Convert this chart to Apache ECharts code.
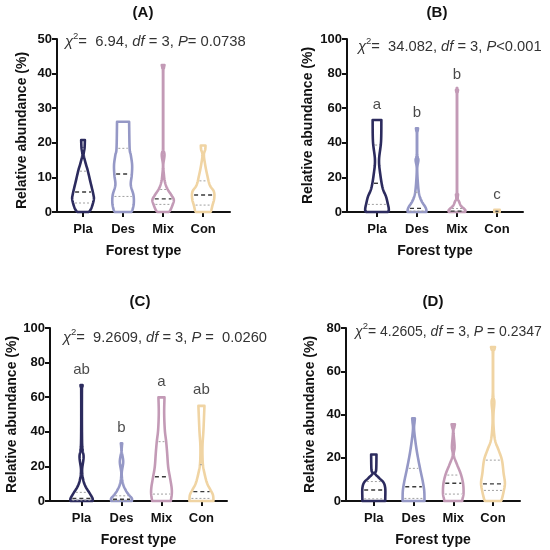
<!DOCTYPE html>
<html><head><meta charset="utf-8">
<script src="https://cdn.jsdelivr.net/npm/echarts@6/dist/echarts.min.js"></script>
<style>html,body{margin:0;padding:0;background:#fff}#c{width:550px;height:550px}</style>
</head><body><div id="c"></div>
<script>
// ---------------- DATA ----------------
const categories = ['Pla', 'Des', 'Mix', 'Con'];
const panelTitles = ['(A)', '(B)', '(C)', '(D)'];
const yMaxes = [50, 100, 100, 80];
const yIntervals = [10, 20, 20, 20];

// Violin outlines: levels (relative abundance, %) and kernel density (relative width) at each level
const levelsA = [
  [0, 1, 3.5, 5, 8.7, 12, 14, 16.5, 18.5, 20.8],
  [0, 0.6, 2.5, 4.9, 7.8, 10.7, 13.6, 16.5, 18.4, 26.1],
  [0, 0.6, 2, 3.5, 4.9, 6.8, 8.8, 11, 13.6, 16.5, 18.4, 22, 40, 41.5, 42.5],
  [0, 0.6, 2, 3.9, 5.9, 7.8, 10.7, 13.6, 16.5, 18, 19.2]
];
const densityA = [
  [42, 57, 72, 70, 52, 36, 24, 12, 17, 19],
  [57, 64, 72, 70, 54, 60, 62, 54, 47, 44],
  [42, 52, 64, 72, 57, 32, 18, 12, 8, 16, 8, 7, 7, 12, 16],
  [52, 57, 64, 74, 72, 47, 32, 20, 12, 20, 22]
];
const levelsB = [
  [0, 0.5, 2.3, 5, 8.9, 13.7, 21.4, 30, 40.6, 53.2],
  [0, 1.2, 3, 6, 9.8, 15.6, 25, 30, 33, 45, 47, 48.4],
  [0, 1.2, 3.5, 6, 8, 10.2, 12.5, 67, 69, 70.5],
  [0, 1.2]
];
const densityB = [
  [72, 78, 78, 72, 62, 42, 28, 20, 32, 34],
  [64, 64, 57, 37, 22, 14, 9, 16, 9, 8, 12, 14],
  [57, 57, 32, 20, 11, 14, 8, 8, 11, 14],
  [24, 24]
];
const levelsC = [
  [0, 1.5, 4.4, 8.3, 12.1, 17.9, 25.6, 33.3, 64, 66, 67],
  [0, 1.5, 3.5, 6.4, 10.2, 16, 22.7, 28.5, 31.5, 33.3],
  [0, 4.4, 8.3, 14, 19.8, 27.6, 34.3, 41, 50.7, 59.9],
  [0, 3.5, 6.4, 10.2, 16, 21.8, 31.4, 41, 55]
];
const densityC = [
  [74, 74, 57, 32, 18, 11, 20, 11, 10, 13, 14],
  [70, 70, 52, 32, 16, 9, 18, 9, 10, 12],
  [64, 70, 68, 58, 48, 42, 36, 28, 24, 26],
  [80, 77, 62, 42, 26, 16, 14, 20, 26]
];
const levelsD = [
  [0, 1.2, 5.8, 8.5, 10.5, 12.8, 14.3, 21.5],
  [0, 1.2, 5.1, 9.7, 15.1, 22, 28.2, 33.5, 36.5, 38.2],
  [0, 1, 3.6, 8.2, 12.8, 16.6, 21.2, 25.1, 32, 34, 35.5],
  [0, 1, 4.3, 8.2, 12.8, 18.9, 23.5, 28.2, 35, 40.5, 45.8, 50, 68, 70, 71.2]
];
const densityD = [
  [77, 77, 77, 67, 42, 14, 22, 24],
  [74, 74, 72, 62, 47, 30, 18, 11, 14, 16],
  [62, 64, 70, 67, 52, 32, 11, 16, 9, 14, 18],
  [57, 62, 72, 80, 72, 62, 42, 20, 11, 11, 16, 9, 9, 16, 20]
];

// Quartiles (Q1, median, Q3) per forest type
const medianA = [5.8, 11.0, 3.8, 4.9];
const q1A = [2.6, 4.5, 2.2, 2.0];
const q3A = [11.8, 18.4, 6.5, 9];
const medianB = [16.6, 2.1, 0.5, 0.3];
const q1B = [4.4, 0.5, 0.2, 0.1];
const q3B = [38.7, 11.4, 2, 0.6];
const medianC = [1.5, 1, 14, 5.4];
const q1C = [0.5, 0.3, 4, 1.5];
const q3C = [5, 3, 34.3, 21];
const medianD = [5.1, 6.6, 8.2, 7.9];
const q1D = [1, 1.2, 3.2, 4.9];
const q3D = [9, 15.1, 12, 18.9];

// Post-hoc letters
const lettersB = ['a', 'b', 'b', 'c'];
const lettersC = ['ab', 'b', 'a', 'ab'];

// Statistics
const statsText = [
  '{i|χ}{s|2}{n|=  6.94, }{i|df}{n| = 3, }{i|P}{n|= 0.0738}',
  '{i|χ}{s|2}{n|=  34.082, }{i|df}{n| = 3, }{i|P}{n|<0.001}',
  '{i|χ}{s|2}{n|=  9.2609, }{i|df}{n| = 3, }{i|P}{n| =  0.0260}',
  '{i|χ}{s|2}{n|= 4.2605, }{i|df}{n| = 3, }{i|P}{n| = 0.2347}'
];

// ---------------- STYLE / LAYOUT ----------------
const colors = ['#2c2b5e', '#9598c6', '#c39ab6', '#f0d4a3'];
const FONT = 'Liberation Sans, Arial, Helvetica, sans-serif';
const grids = [
  { left: 57, top: 39, width: 173, height: 173 },
  { left: 347, top: 39, width: 176, height: 173 },
  { left: 50, top: 328, width: 177, height: 173 },
  { left: 346, top: 328, width: 174, height: 173 }
];
const xRanges = [[-0.65, 3.67], [-0.75, 3.65], [-0.79, 3.64], [-0.7, 3.68]];
const yNameGaps = [28, 32, 28, 29];
const yNamePad = [[0, 10, 0, 0], [0, 0, 0, 0], [0, 0, 0, 0], [0, 0, 0, 0]];
const titlePos = [[143, 13], [437, 13], [140, 302], [433, 302]];
const statsPos = [[65, 40], [358, 45], [63, 336], [355, 330]];
const statsFont = [14.8, 14.7, 14.7, 14];
const LW = 2.6;

const panels = [
  { levels: levelsA, density: densityA, med: medianA, q1: q1A, q3: q3A, letters: null },
  { levels: levelsB, density: densityB, med: medianB, q1: q1B, q3: q3B, letters: lettersB },
  { levels: levelsC, density: densityC, med: medianC, q1: q1C, q3: q3C, letters: lettersC },
  { levels: levelsD, density: densityD, med: medianD, q1: q1D, q3: q3D, letters: null }
];

function widthAt(ys, ws, y) {
  if (y <= ys[0]) return ws[0];
  for (let j = 1; j < ys.length; j++) {
    if (y <= ys[j]) {
      const t = (y - ys[j - 1]) / (ys[j] - ys[j - 1]);
      return ws[j - 1] + t * (ws[j] - ws[j - 1]);
    }
  }
  return ws[ws.length - 1];
}

// Catmull-Rom smoothing of one side of the outline (pixel points), for drawing only
function smoothSide(pts) {
  if (pts.length < 3) return pts.slice();
  const out = [];
  const n = pts.length;
  for (let j = 0; j < n - 1; j++) {
    const p0 = pts[Math.max(j - 1, 0)], p1 = pts[j], p2 = pts[j + 1], p3 = pts[Math.min(j + 2, n - 1)];
    const steps = 8;
    for (let s = 0; s < steps; s++) {
      const t = s / steps, t2 = t * t, t3 = t2 * t;
      const f = (a, b, c, d) => 0.5 * ((2 * b) + (-a + c) * t + (2 * a - 5 * b + 4 * c - d) * t2 + (-a + 3 * b - 3 * c + d) * t3);
      out.push([f(p0[0], p1[0], p2[0], p3[0]), f(p0[1], p1[1], p2[1], p3[1])]);
    }
  }
  out.push(pts[n - 1]);
  return out;
}

function makeRender(p) {
  return function (params, api) {
    const ci = api.value(0);
    const ys = p.levels[ci], ws = p.density[ci];
    const unit = api.size([1, 0])[0];
    const k = unit / 240;
    const cx = api.coord([ci, 0])[0];
    // outer width -> stroke centre-line half width
    const side = ys.map((y, j) => [Math.max(ws[j] * k - LW / 2, 0.15), api.coord([ci, y])[1]]);
    const sm = smoothSide(side).map(q => [Math.max(q[0], 0.15), q[1]]);
    const right = sm.map(q => [cx + q[0], q[1]]);
    const left = sm.slice().reverse().map(q => [cx - q[0], q[1]]);
    const col = colors[ci];
    const children = [{
      type: 'polygon',
      shape: { points: right.concat(left) },
      style: { fill: 'none', stroke: col, lineWidth: LW, lineJoin: 'round' }
    }];
    const addLine = (y, dash, stroke, lw) => {
      const hw = Math.max(widthAt(ys, ws, y) * k - LW - 0.5, 1.5);
      const c = api.coord([ci, y]);
      children.push({
        type: 'line',
        shape: { x1: c[0] - hw, y1: c[1], x2: c[0] + hw, y2: c[1] },
        style: { stroke: stroke, lineWidth: lw, lineDash: dash }
      });
    };
    addLine(p.q1[ci], [2, 2], '#a0a0a0', 1);
    addLine(p.q3[ci], [2, 2], '#a0a0a0', 1);
    addLine(p.med[ci], [4, 3], '#3a3a3a', 1.4);
    return { type: 'group', children: children };
  };
}

const option = {
  animation: false,
  backgroundColor: '#fff',
  grid: grids.map(g => Object.assign({ containLabel: false }, g)),
  xAxis: grids.map((g, i) => ({
    gridIndex: i, type: 'value', min: xRanges[i][0], max: xRanges[i][1],
    axisLine: { show: true, onZero: false, lineStyle: { color: '#111', width: 2 } },
    axisTick: { show: true, customValues: [0, 1, 2, 3], length: 5, lineStyle: { color: '#111', width: 2 } },
    axisLabel: {
      customValues: [0, 1, 2, 3], formatter: v => categories[Math.round(v)],
      fontWeight: 'bold', fontSize: 13, color: '#111', fontFamily: FONT, margin: 11
    },
    splitLine: { show: false },
    name: 'Forest type', nameLocation: 'middle', nameGap: 32,
    nameTextStyle: { fontWeight: 'bold', fontSize: 14, color: '#111', fontFamily: FONT }
  })),
  yAxis: grids.map((g, i) => ({
    gridIndex: i, type: 'value', min: 0, max: yMaxes[i], interval: yIntervals[i],
    axisLine: { show: true, onZero: false, lineStyle: { color: '#111', width: 2 } },
    axisTick: { show: true, length: 5, lineStyle: { color: '#111', width: 2 } },
    axisLabel: { fontWeight: 'bold', fontSize: 13, color: '#111', fontFamily: FONT, margin: 5 },
    splitLine: { show: false },
    name: 'Relative abundance (%)', nameLocation: 'middle', nameGap: yNameGaps[i],
    nameTextStyle: { fontWeight: 'bold', fontSize: 14, color: '#111', fontFamily: FONT, padding: yNamePad[i] }
  })),
  series: [],
  graphic: []
};

panels.forEach((p, i) => {
  option.series.push({
    type: 'custom', xAxisIndex: i, yAxisIndex: i,
    renderItem: makeRender(p),
    encode: { x: 0, y: 1 },
    data: categories.map((c, ci) => [ci, Math.max.apply(null, p.levels[ci])]),
    silent: true, clip: false
  });
  if (p.letters) {
    option.series.push({
      type: 'scatter', xAxisIndex: i, yAxisIndex: i, symbolSize: 0, silent: true,
      data: p.letters.map((l, ci) => ({
        value: [ci, Math.max.apply(null, p.levels[ci])],
        label: { formatter: l }
      })),
      label: { show: true, position: 'top', distance: 8, fontSize: 15, color: '#1a1a1a', fontFamily: FONT }
    });
  }
  option.graphic.push({
    type: 'text', x: titlePos[i][0], y: titlePos[i][1],
    style: { text: panelTitles[i], align: 'center', verticalAlign: 'middle',
      font: 'bold 15px ' + FONT, fill: '#111' }
  });
  const fs = statsFont[i];
  option.graphic.push({
    type: 'text', x: statsPos[i][0], y: statsPos[i][1],
    style: {
      text: statsText[i], align: 'left', verticalAlign: 'middle',
      rich: {
        n: { fontSize: fs, fontFamily: FONT, fill: '#333', lineHeight: 18, verticalAlign: 'bottom' },
        i: { fontSize: fs, fontFamily: FONT, fontStyle: 'italic', fill: '#333', lineHeight: 18, verticalAlign: 'bottom' },
        s: { fontSize: 9.5, fontFamily: FONT, fill: '#333', lineHeight: 18, verticalAlign: 'top' }
      }
    }
  });
});

const chart = echarts.init(document.getElementById('c'), null, { renderer: 'canvas' });
chart.setOption(option);
</script>
</body></html>
